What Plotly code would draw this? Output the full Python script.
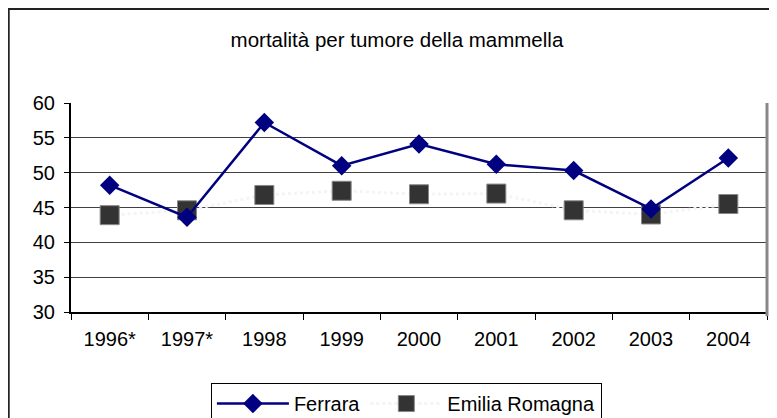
import plotly.graph_objects as go

anni = ['1996*', '1997*', '1998', '1999', '2000', '2001', '2002', '2003', '2004']
ferrara = [48.2, 43.6, 57.2, 51.0, 54.1, 51.2, 50.3, 44.8, 52.1]
emilia_romagna = [43.9, 44.6, 46.8, 47.4, 46.9, 47.0, 44.6, 44.0, 45.5]

fig = go.Figure()
fig.add_trace(go.Scatter(
    x=anni, y=emilia_romagna, name='Emilia Romagna', mode='lines+markers',
    line=dict(color='#f4f4f4', width=3, dash='dot'),
    marker=dict(symbol='square', size=19, color='#333333', line=dict(color='#888888', width=1))
))
fig.add_trace(go.Scatter(
    x=anni, y=ferrara, name='Ferrara', mode='lines+markers',
    line=dict(color='#000080', width=2.5),
    marker=dict(symbol='diamond', size=15, color='#000080')
))

# bordo esterno del grafico
fig.add_shape(type='rect', xref='paper', yref='paper',
              x0=-0.0895, x1=1.3, y0=-1.5, y1=1.4498,
              line=dict(color='#222222', width=2), layer='below')
# bordo destro dell'area del grafico
fig.add_shape(type='line', xref='paper', yref='paper',
              x0=1, x1=1, y0=-0.02, y1=1,
              line=dict(color='#888888', width=3))

# la pagina ha un margine di 8px: le posizioni tengono conto di questo
fig.update_layout(
    width=777, height=418,
    margin=dict(l=63, r=18, t=95, b=114, autoexpand=False),
    paper_bgcolor='white', plot_bgcolor='white',
    font=dict(family='Liberation Sans, Arial, sans-serif', size=20, color='black'),
    title=dict(text='mortalità per tumore della mammella', x=0.5006, xanchor='center',
               y=0.923, yanchor='middle', font=dict(size=20.5)),
    showlegend=True,
    legend=dict(orientation='h', x=0.201, y=-0.34, xanchor='left', yanchor='top',
                traceorder='reversed', bordercolor='black', borderwidth=1,
                font=dict(size=20), itemwidth=72, bgcolor='white'),
    xaxis=dict(type='category', range=[-0.5, len(anni) - 0.5], tickson='boundaries',
               ticks='outside', ticklen=6,
               tickcolor='black', showline=True, linecolor='black', linewidth=2,
               showgrid=False, ticklabelstandoff=8, automargin=False),
    yaxis=dict(range=[30, 60], dtick=5, ticks='outside', ticklen=5, tickcolor='black',
               showline=True, linecolor='black', linewidth=2,
               showgrid=True, gridcolor='#404040', gridwidth=1, zeroline=False,
               ticklabelstandoff=5, automargin=False),
)

fig.write_html('out.html')
